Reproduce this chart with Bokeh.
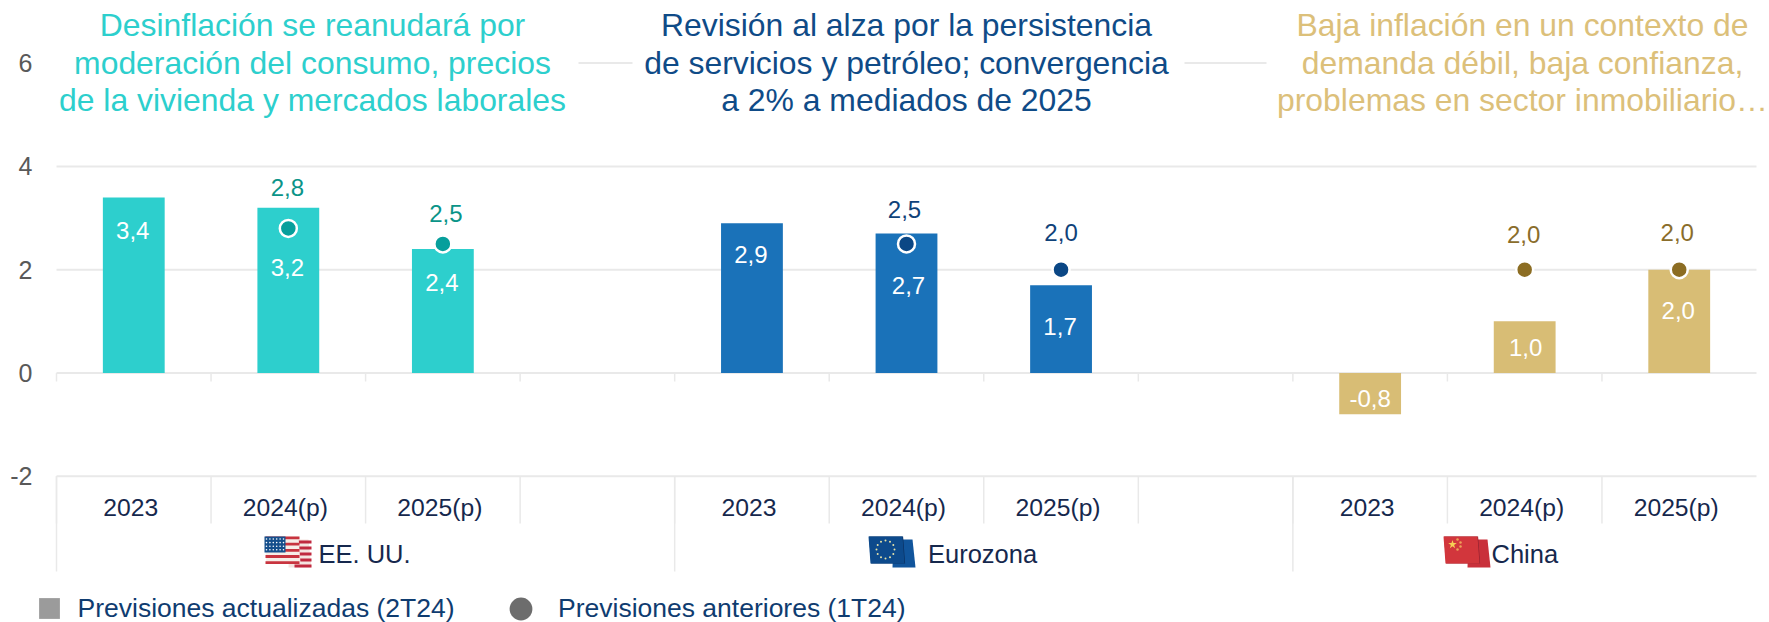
import math
from bokeh.plotting import figure
from bokeh.models import Legend, LegendItem, FixedTicker, ColumnDataSource, Range1d
from bokeh.core.properties import value
from bokeh.embed import file_html
from bokeh.resources import INLINE

# ---- data ----
groups = ["EE. UU.", "Eurozona", "China"]
years = ["2023", "2024(p)", "2025(p)"]
usa_now = [3.4, 3.2, 2.4]
euro_now = [2.9, 2.7, 1.7]
china_now = [-0.8, 1.0, 2.0]
usa_prev = [None, 2.8, 2.5]
euro_prev = [None, 2.5, 2.0]
china_prev = [None, 2.0, 2.0]
titles = [
    ["Desinflación se reanudará por", "moderación del consumo, precios", "de la vivienda y mercados laborales"],
    ["Revisión al alza por la persistencia", "de servicios y petróleo; convergencia", "a 2% a mediados de 2025"],
    ["Baja inflación en un contexto de", "demanda débil, baja confianza,", "problemas en sector inmobiliario…"],
]
legend_labels = ["Previsiones actualizadas (2T24)", "Previsiones anteriores (1T24)"]
y_ticks = [-2, 0, 2, 4, 6]

# ---- style ----
FONT = "Liberation Sans"
bar_colors = ["#2dcfcd", "#1a72b9", "#d8bd75"]
dot_colors = ["#079f9c", "#0b4785", "#8c6d23"]
prev_text_colors = ["#0a9488", "#0f4279", "#8a6d2b"]
title_colors = ["#2dcfcd", "#0f4b87", "#dcc07a"]
GRID = "#e9e9e9"
INK = "#16284d"
LEG = "#0f3c70"

# label offsets in pixels (bar-top relative, down positive)
now_dy = [[33, 60, 33], [31, 52, 41], [-16, 26, 41]]
now_dx = [[-1, -1, -1], [-1, 2, -1], [0, 1, -1]]
prev_dy = [[None, -41, -30], [None, -34, -37], [None, -35, -37]]
prev_dx = [[0, -1, 3], [0, -2, 0], [0, -1, -2]]

# page geometry (pixels of the full picture)
FIG_W, FIG_H = 1769, 622
FRAME_LEFT = 36
LEFT, RIGHT = 56.0, 1756.0
ZERO, PER_UNIT = 372.5, 51.65
CAT = (RIGHT - LEFT) / 11


def X(px):
    return (px - LEFT) / CAT


def Y(px):
    return (ZERO - px) / PER_UNIT


p = figure(width=FIG_W, height=FIG_H, output_backend="svg", toolbar_location=None,
           x_range=Range1d(X(FRAME_LEFT), X(FIG_W)), y_range=Range1d(Y(FIG_H), Y(0)),
           min_border_left=FRAME_LEFT, min_border_right=0,
           min_border_top=0, min_border_bottom=0, background_fill_color="white",
           border_fill_color="white")
p.outline_line_color = None
p.xaxis.visible = False
p.xgrid.visible = False
p.ygrid.visible = False
p.yaxis.ticker = FixedTicker(ticks=y_ticks)
p.yaxis.major_label_overrides = {t: str(t) for t in y_ticks}
p.yaxis.axis_line_color = None
p.yaxis.major_tick_line_color = None
p.yaxis.minor_tick_line_color = None
p.yaxis.major_tick_in = 0
p.yaxis.major_tick_out = 0
p.yaxis.major_label_standoff = 4
p.yaxis.major_label_text_font = FONT
p.yaxis.major_label_text_font_size = "25px"
p.yaxis.major_label_text_color = "#595959"

# gridlines stop at the last category; the one at 6 is interrupted by the titles
grid_vals = [-2, 0, 2, 4]
p.segment(x0=[0] * 4, x1=[11] * 4, y0=grid_vals, y1=grid_vals, line_color=GRID, line_width=2)
p.segment(x0=[X(578), X(1184)], x1=[X(632), X(1266)], y0=[6, 6], y1=[6, 6],
          line_color=GRID, line_width=2)

# separators
cuts = list(range(0, 11))
p.segment(x0=cuts, x1=cuts, y0=[0] * 11, y1=[Y(381)] * 11, line_color=GRID, line_width=1.5)
p.segment(x0=cuts, x1=cuts, y0=[-2] * 11, y1=[Y(523)] * 11, line_color=GRID, line_width=1.5)
edges = [0, 4, 8]
p.segment(x0=edges, x1=edges, y0=[-2] * 3, y1=[Y(571)] * 3, line_color=GRID, line_width=1.5)

now_all = [usa_now, euro_now, china_now]
prev_all = [usa_prev, euro_prev, china_prev]

for g, (now, prev) in enumerate(zip(now_all, prev_all)):
    xs = [g * 4 + i + 0.5 for i in range(3)]
    src = ColumnDataSource(dict(x=xs, top=now, txt=[f"{v:.1f}".replace(".", ",") for v in now],
                                dy=now_dy[g], dx=now_dx[g]))
    p.vbar(x="x", top="top", bottom=0, width=0.4, fill_color=bar_colors[g], line_color=None, source=src)
    p.text(x="x", y="top", text="txt", y_offset="dy", x_offset="dx", text_align="center", text_baseline="middle",
           text_color="white", text_font=value(FONT), text_font_size="24px", source=src)
    px = [x for x, v in zip(xs, prev) if v is not None]
    pv = [v for v in prev if v is not None]
    pdy = [d for d in prev_dy[g] if d is not None]
    pdx = [d for d, v in zip(prev_dx[g], prev) if v is not None]
    src2 = ColumnDataSource(dict(x=px, y=pv, txt=[f"{v:.1f}".replace(".", ",") for v in pv], dy=pdy, dx=pdx))
    p.scatter(x="x", y="y", size=17, marker="circle", fill_color=dot_colors[g], line_color="white",
              line_width=2.5, source=src2)
    p.text(x="x", y="y", text="txt", y_offset="dy", x_offset="dx", text_align="center", text_baseline="middle",
           text_color=prev_text_colors[g], text_font=value(FONT), text_font_size="24px", source=src2)
    p.text(x=xs, y=[Y(506.5)] * 3, x_offset=-3, text=years, text_align="center", text_baseline="middle",
           text_color=INK, text_font=value(FONT), text_font_size="24.7px")

# group labels
for name, gx in zip(groups, [318, 927.5, 1491]):
    p.text(x=[X(gx)], y=[Y(553.5)], text=[name], text_align="left", text_baseline="middle",
           text_color=INK, text_font=value(FONT), text_font_size="25.5px")


# flags (decorations, in pixel positions)
def panel(x0, xs, ys, color):
    p.patch([X(x0 + a) for a in xs], [Y(b) for b in ys], fill_color=color, line_color=None)


MAIN_X, MAIN_Y = [0, 34, 36, 2], [536, 536, 563, 563]
REAR_X, REAR_Y = [25, 44, 47, 24], [539, 539, 567, 567]

# USA
x0 = 264
panel(x0, REAR_X, REAR_Y, "#f4e4e0")
for k in range(5):
    yy = 540 + k * 6
    p.quad(left=X(x0 + 30), right=X(x0 + 47), top=Y(yy), bottom=Y(yy + 3), fill_color="#c0293f", line_color=None)
panel(x0, MAIN_X, MAIN_Y, "#f6eee8")
for k in range(5):
    yy = 536 + k * 6.2
    p.quad(left=X(x0 + 1), right=X(x0 + 35), top=Y(yy), bottom=Y(yy + 2.8), fill_color="#c8343f", line_color=None)
p.quad(left=X(x0), right=X(x0 + 21), top=Y(536), bottom=Y(552), fill_color="#154f8c", line_color=None)
sx, sy = [], []
for r in range(4):
    for c in range(6):
        sx.append(X(x0 + 2 + c * 3.4))
        sy.append(Y(538.5 + r * 3.6))
p.scatter(sx, sy, size=1.6, marker="circle", fill_color="white", line_color=None)

# EU
x0 = 868
panel(x0, REAR_X, REAR_Y, "#11559c")
panel(x0, [a + 0.6 for a in MAIN_X], MAIN_Y, "#0b2f5e")
panel(x0, MAIN_X, MAIN_Y, "#0d4a8c")
p.scatter([X(x0 + 17 + 9 * math.cos(k * math.pi / 6)) for k in range(12)],
          [Y(549 + 9 * math.sin(k * math.pi / 6)) for k in range(12)],
          size=2, marker="circle", fill_color="#e6e3a8", line_color=None)

# China
x0 = 1443
panel(x0, REAR_X, REAR_Y, "#c9303b")
panel(x0, [a + 0.6 for a in MAIN_X], MAIN_Y, "#8f2230")
panel(x0, MAIN_X, MAIN_Y, "#d2363c")
p.scatter([X(1452)], [Y(544)], size=9, marker="star", fill_color="#f6cf55", line_color=None)
p.scatter([X(1457), X(1460), X(1460), X(1457)], [Y(539), Y(542), Y(546), Y(549)], size=2.5,
          marker="circle", fill_color="#eda05a", line_color=None)

# titles
centers = [312, 906, 1522]
line_centers = [24.8, 62, 99.2]
for lines, cx, col in zip(titles, centers, title_colors):
    p.text(x=[X(cx)] * 3, y=[Y(b) for b in line_centers], text=lines, text_align="center",
           text_baseline="middle", text_color=col, text_font=value(FONT), text_font_size="31.9px")

# legend
r1 = p.scatter([float("nan")], [float("nan")], marker="square", size=21, fill_color="#9b9b9b", line_color=None)
r2 = p.scatter([float("nan")], [float("nan")], marker="circle", size=23, fill_color="#6d6d6d", line_color=None)
for r, lab, gw, lx, ly, st in [(r1, legend_labels[0], 52, 22.5 - FRAME_LEFT, -12, 3),
                               (r2, legend_labels[1], 57.5, 492 - FRAME_LEFT, -14.75, 9.5)]:
    lg = Legend(items=[LegendItem(label=lab, renderers=[r])], location=(lx, ly),
                orientation="horizontal", padding=0, margin=0, glyph_width=int(gw), glyph_height=int(gw),
                label_standoff=int(st), label_text_font=FONT, label_text_font_size="26.5px",
                label_text_color=LEG, border_line_color=None, background_fill_alpha=0)
    p.add_layout(lg, "center")

open("out.html", "w").write(file_html(p, INLINE))
